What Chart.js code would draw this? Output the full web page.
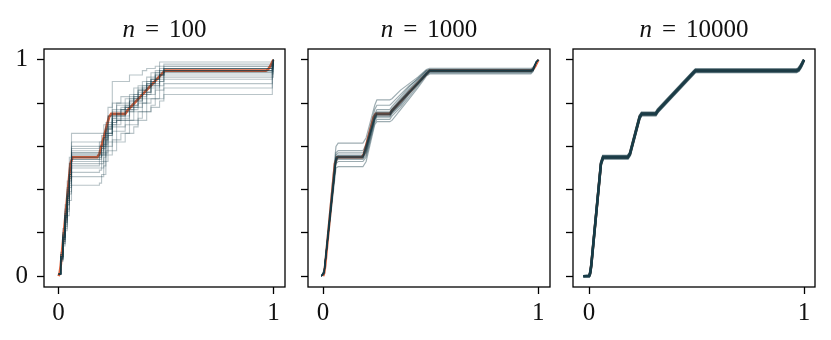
<!DOCTYPE html>
<html>
<head>
<meta charset="utf-8">
<script src="https://cdn.jsdelivr.net/npm/chart.js@4/dist/chart.umd.min.js"></script>
<style>
  html, body { margin: 0; padding: 0; background: #fff; }
  #wrap { position: relative; width: 831px; height: 340px; overflow: hidden; }
  canvas { position: absolute; top: 0; }
</style>
</head>
<body>
<div id="wrap">
  <canvas id="c1" width="289" height="340" style="left:0px"></canvas>
  <canvas id="c2" width="258" height="340" style="left:296px"></canvas>
  <canvas id="c3" width="258" height="340" style="left:561px"></canvas>
</div>
<script>
// sample sizes shown in the panel titles
const sampleSizes = ['100', '1000', '10000'];

const xTickValues = [0, 1];
const yTickValues = [0, 0.2, 0.4, 0.6, 0.8, 1];

// true cdf (red line)
const trueX = [0, 0.005, 0.01, 0.055, 0.065, 0.18, 0.19, 0.235, 0.245, 0.31, 0.32, 0.485, 0.495, 0.965, 0.975, 0.985, 0.995, 1.0];
const trueY = [0, 0.015, 0.05, 0.52, 0.55, 0.55, 0.565, 0.735, 0.75, 0.75, 0.765, 0.94, 0.95, 0.95, 0.955, 0.97, 0.99, 1.0];

// n = 100 : empirical cdfs, step functions on shared knots
const p1X = [0, 0.01, 0.02, 0.03, 0.04, 0.05, 0.06, 0.19, 0.20, 0.21, 0.22, 0.23, 0.25, 0.27, 0.29, 0.31, 0.33, 0.35, 0.37, 0.39, 0.41, 0.43, 0.45, 0.47, 0.49, 0.985, 0.995, 1.0];
const p1Curves = [
  [0.01, 0.11, 0.22, 0.33, 0.44, 0.55, 0.66, 0.66, 0.66, 0.70, 0.70, 0.78, 0.90, 0.90, 0.90, 0.90, 0.93, 0.93, 0.93, 0.95, 0.96, 0.96, 0.97, 0.99, 0.99, 0.99, 0.995, 1],
  [0.01, 0.10, 0.20, 0.31, 0.41, 0.52, 0.62, 0.62, 0.65, 0.65, 0.71, 0.74, 0.80, 0.80, 0.83, 0.83, 0.83, 0.87, 0.88, 0.88, 0.92, 0.94, 0.94, 0.97, 0.98, 0.98, 0.99, 1],
  [0.01, 0.10, 0.20, 0.30, 0.40, 0.50, 0.60, 0.60, 0.60, 0.64, 0.69, 0.69, 0.77, 0.79, 0.79, 0.79, 0.84, 0.84, 0.86, 0.90, 0.90, 0.92, 0.95, 0.95, 0.97, 0.97, 0.98, 1],
  [0.01, 0.10, 0.19, 0.29, 0.39, 0.49, 0.59, 0.62, 0.62, 0.66, 0.66, 0.74, 0.74, 0.80, 0.80, 0.82, 0.82, 0.82, 0.87, 0.87, 0.90, 0.90, 0.94, 0.96, 0.97, 0.97, 0.985, 1],
  [0.01, 0.09, 0.19, 0.29, 0.38, 0.48, 0.58, 0.58, 0.61, 0.61, 0.67, 0.70, 0.73, 0.73, 0.77, 0.77, 0.81, 0.83, 0.83, 0.88, 0.88, 0.91, 0.91, 0.95, 0.96, 0.96, 0.98, 1],
  [0.01, 0.09, 0.18, 0.28, 0.37, 0.47, 0.57, 0.60, 0.60, 0.64, 0.68, 0.68, 0.76, 0.76, 0.76, 0.80, 0.80, 0.84, 0.84, 0.86, 0.89, 0.89, 0.93, 0.93, 0.96, 0.96, 0.98, 1],
  [0.01, 0.09, 0.18, 0.27, 0.36, 0.46, 0.56, 0.56, 0.58, 0.62, 0.62, 0.68, 0.71, 0.74, 0.74, 0.74, 0.79, 0.79, 0.82, 0.85, 0.85, 0.89, 0.91, 0.91, 0.95, 0.95, 0.975, 1],
  [0.01, 0.09, 0.18, 0.27, 0.36, 0.45, 0.55, 0.57, 0.57, 0.63, 0.68, 0.68, 0.75, 0.75, 0.77, 0.77, 0.77, 0.82, 0.82, 0.86, 0.88, 0.88, 0.92, 0.94, 0.95, 0.95, 0.975, 1],
  [0.01, 0.09, 0.17, 0.26, 0.35, 0.44, 0.54, 0.54, 0.56, 0.56, 0.63, 0.66, 0.70, 0.72, 0.72, 0.76, 0.76, 0.79, 0.83, 0.83, 0.85, 0.88, 0.88, 0.92, 0.94, 0.94, 0.97, 1],
  [0.01, 0.08, 0.17, 0.26, 0.35, 0.44, 0.53, 0.55, 0.59, 0.59, 0.66, 0.66, 0.74, 0.74, 0.74, 0.76, 0.78, 0.78, 0.81, 0.85, 0.85, 0.89, 0.89, 0.93, 0.94, 0.94, 0.97, 1],
  [0.01, 0.08, 0.17, 0.25, 0.34, 0.43, 0.52, 0.52, 0.52, 0.57, 0.57, 0.65, 0.69, 0.72, 0.72, 0.72, 0.76, 0.78, 0.78, 0.82, 0.84, 0.84, 0.88, 0.90, 0.93, 0.93, 0.965, 1],
  [0.01, 0.08, 0.16, 0.25, 0.33, 0.42, 0.51, 0.53, 0.56, 0.56, 0.61, 0.66, 0.70, 0.70, 0.73, 0.73, 0.77, 0.77, 0.80, 0.80, 0.84, 0.87, 0.87, 0.90, 0.92, 0.92, 0.96, 1],
  [0.01, 0.08, 0.16, 0.24, 0.33, 0.41, 0.50, 0.50, 0.50, 0.55, 0.60, 0.60, 0.67, 0.69, 0.69, 0.72, 0.72, 0.76, 0.76, 0.80, 0.82, 0.82, 0.86, 0.88, 0.91, 0.91, 0.955, 1],
  [0.01, 0.08, 0.15, 0.23, 0.31, 0.39, 0.48, 0.49, 0.53, 0.53, 0.58, 0.62, 0.62, 0.67, 0.67, 0.70, 0.72, 0.72, 0.76, 0.76, 0.80, 0.82, 0.82, 0.86, 0.89, 0.89, 0.945, 1],
  [0.01, 0.07, 0.15, 0.22, 0.30, 0.38, 0.46, 0.46, 0.46, 0.51, 0.56, 0.56, 0.63, 0.63, 0.66, 0.66, 0.70, 0.70, 0.73, 0.76, 0.76, 0.79, 0.82, 0.82, 0.87, 0.87, 0.935, 1],
  [0.01, 0.07, 0.14, 0.21, 0.28, 0.35, 0.42, 0.43, 0.47, 0.47, 0.53, 0.58, 0.58, 0.62, 0.62, 0.66, 0.66, 0.69, 0.72, 0.72, 0.76, 0.78, 0.78, 0.81, 0.84, 0.84, 0.92, 1],
  [0.01, 0.09, 0.18, 0.28, 0.37, 0.46, 0.55, 0.55, 0.59, 0.64, 0.64, 0.70, 0.73, 0.77, 0.77, 0.79, 0.79, 0.83, 0.86, 0.86, 0.89, 0.91, 0.91, 0.93, 0.95, 0.95, 0.975, 1],
  [0.01, 0.09, 0.19, 0.28, 0.38, 0.47, 0.57, 0.57, 0.57, 0.61, 0.66, 0.71, 0.71, 0.75, 0.78, 0.78, 0.81, 0.81, 0.85, 0.87, 0.87, 0.90, 0.93, 0.93, 0.96, 0.96, 0.98, 1],
  [0.01, 0.09, 0.18, 0.27, 0.36, 0.45, 0.54, 0.56, 0.56, 0.60, 0.65, 0.65, 0.72, 0.72, 0.75, 0.78, 0.78, 0.81, 0.81, 0.84, 0.87, 0.90, 0.90, 0.93, 0.95, 0.95, 0.975, 1],
  [0.01, 0.09, 0.18, 0.28, 0.37, 0.47, 0.56, 0.56, 0.60, 0.60, 0.63, 0.69, 0.74, 0.74, 0.74, 0.78, 0.82, 0.82, 0.84, 0.84, 0.88, 0.91, 0.91, 0.94, 0.96, 0.96, 0.98, 1]
];

// n = 1000
const p2X = [-0.008, 0.005, 0.06, 0.07, 0.185, 0.20, 0.24, 0.25, 0.31, 0.32, 0.36, 0.40, 0.44, 0.48, 0.495, 0.965, 0.975, 0.99, 1.0];
const p2Curves = [
  [0, 0.03, 0.60, 0.615, 0.615, 0.64, 0.79, 0.815, 0.815, 0.82, 0.86, 0.89, 0.92, 0.955, 0.96, 0.96, 0.965, 0.99, 1],
  [0, 0.02, 0.57, 0.58, 0.58, 0.61, 0.77, 0.79, 0.79, 0.80, 0.84, 0.88, 0.91, 0.95, 0.955, 0.955, 0.96, 0.99, 1],
  [0, 0.02, 0.56, 0.57, 0.57, 0.59, 0.75, 0.77, 0.77, 0.785, 0.83, 0.875, 0.915, 0.95, 0.955, 0.955, 0.96, 0.99, 1],
  [0, 0.02, 0.55, 0.56, 0.56, 0.585, 0.745, 0.76, 0.76, 0.775, 0.82, 0.865, 0.905, 0.945, 0.95, 0.95, 0.955, 0.99, 1],
  [0, 0.02, 0.545, 0.555, 0.555, 0.58, 0.74, 0.755, 0.755, 0.77, 0.81, 0.86, 0.90, 0.94, 0.95, 0.95, 0.955, 0.99, 1],
  [0, 0.016, 0.54, 0.552, 0.552, 0.60, 0.73, 0.75, 0.75, 0.765, 0.81, 0.85, 0.89, 0.935, 0.95, 0.95, 0.955, 0.99, 1],
  [0, 0.014, 0.535, 0.548, 0.548, 0.595, 0.725, 0.745, 0.745, 0.76, 0.805, 0.847, 0.888, 0.934, 0.948, 0.948, 0.954, 0.99, 1],
  [0, 0.018, 0.545, 0.556, 0.556, 0.605, 0.735, 0.755, 0.755, 0.77, 0.815, 0.855, 0.895, 0.938, 0.952, 0.952, 0.957, 0.99, 1],
  [0, 0.015, 0.538, 0.55, 0.55, 0.598, 0.728, 0.748, 0.748, 0.762, 0.808, 0.85, 0.89, 0.936, 0.95, 0.95, 0.955, 0.99, 1],
  [0, 0.02, 0.54, 0.55, 0.55, 0.575, 0.73, 0.745, 0.745, 0.76, 0.80, 0.85, 0.895, 0.94, 0.948, 0.948, 0.953, 0.99, 1],
  [0, 0.02, 0.535, 0.545, 0.545, 0.57, 0.725, 0.74, 0.74, 0.755, 0.795, 0.845, 0.89, 0.935, 0.945, 0.945, 0.95, 0.99, 1],
  [0, 0.02, 0.53, 0.54, 0.54, 0.56, 0.72, 0.735, 0.735, 0.75, 0.79, 0.84, 0.885, 0.93, 0.943, 0.943, 0.95, 0.99, 1],
  [0, 0.02, 0.52, 0.53, 0.53, 0.55, 0.71, 0.725, 0.725, 0.74, 0.78, 0.83, 0.88, 0.93, 0.94, 0.94, 0.948, 0.99, 1],
  [0, 0.01, 0.50, 0.506, 0.506, 0.53, 0.70, 0.714, 0.714, 0.72, 0.77, 0.82, 0.87, 0.925, 0.935, 0.935, 0.945, 0.99, 1]
];

// n = 10000
const p3X = [-0.027, 0, 0.005, 0.01, 0.055, 0.065, 0.18, 0.19, 0.235, 0.245, 0.31, 0.32, 0.485, 0.495, 0.965, 0.975, 0.985, 0.995, 1.0];
const p3Curves = [
  [0, 0.004, 0.021, 0.056, 0.526, 0.556, 0.556, 0.571, 0.741, 0.756, 0.756, 0.771, 0.946, 0.956, 0.956, 0.961, 0.976, 0.995, 1.0],
  [0, 0.002, 0.018, 0.053, 0.523, 0.553, 0.553, 0.568, 0.738, 0.753, 0.753, 0.768, 0.943, 0.953, 0.953, 0.958, 0.973, 0.992, 1.0],
  [0, 0, 0.015, 0.05, 0.52, 0.55, 0.55, 0.565, 0.735, 0.75, 0.75, 0.765, 0.94, 0.95, 0.95, 0.955, 0.97, 0.99, 1.0],
  [0, 0, 0.012, 0.047, 0.517, 0.547, 0.547, 0.562, 0.732, 0.747, 0.747, 0.762, 0.937, 0.947, 0.947, 0.952, 0.967, 0.988, 1.0],
  [0, 0, 0.009, 0.044, 0.514, 0.544, 0.544, 0.559, 0.729, 0.744, 0.744, 0.759, 0.934, 0.944, 0.944, 0.949, 0.964, 0.985, 1.0]
];

const TEAL = '23, 60, 72';
const RED = '#d9603b';
const FONT = "'Liberation Serif', 'Times New Roman', serif";
const FONT_SIZE = 25;
const TEXT = '#111';

const panels = [
  { id: 'c1', n: sampleSizes[0], xs: p1X, curves: p1Curves, alpha: 0.3, width: 1.1, stepped: 'before', xMin: -0.068, xMax: 1.054, yWidth: 44, yLabels: true },
  { id: 'c2', n: sampleSizes[1], xs: p2X, curves: p2Curves, alpha: 0.42, width: 1.2, stepped: false, xMin: -0.07, xMax: 1.054, yWidth: 12, yLabels: false },
  { id: 'c3', n: sampleSizes[2], xs: p3X, curves: p3Curves, alpha: 0.65, width: 2.4, stepped: false, xMin: -0.075, xMax: 1.051, yWidth: 12, yLabels: false }
];

// box around the axes + "n = ..." title
const framePlugin = {
  id: 'frame',
  afterDraw(chart) {
    const { ctx, chartArea: a } = chart;
    ctx.save();
    ctx.strokeStyle = '#000';
    ctx.lineWidth = 1.3;
    ctx.strokeRect(a.left, a.top, a.right - a.left, a.bottom - a.top);

    const n = chart.options.plugins.frame.n;
    const italic = `italic ${FONT_SIZE}px ${FONT}`;
    const upright = `${FONT_SIZE}px ${FONT}`;
    const gap = 10;
    ctx.font = italic;
    const wN = ctx.measureText('n').width;
    ctx.font = upright;
    const wEq = ctx.measureText('=').width;
    const wNum = ctx.measureText(n).width;
    const total = wN + gap + wEq + gap + wNum;
    let x = (a.left + a.right) / 2 - total / 2;
    const y = 36.5;
    ctx.fillStyle = TEXT;
    ctx.textBaseline = 'alphabetic';
    ctx.textAlign = 'left';
    ctx.font = italic;
    ctx.fillText('n', x, y);
    x += wN + gap;
    ctx.font = upright;
    ctx.fillText('=', x, y);
    x += wEq + gap;
    ctx.fillText(n, x, y);
    ctx.restore();
  }
};

function toPoints(xs, ys) {
  return xs.map((x, i) => ({ x: x, y: ys[i] }));
}

function makePanel(p) {
  const datasets = p.curves.map(row => ({
    data: toPoints(p.xs, row),
    showLine: true,
    stepped: p.stepped,
    borderColor: `rgba(${TEAL}, ${p.alpha})`,
    borderWidth: p.width,
    pointRadius: 0,
    tension: 0,
    fill: false
  }));
  // last dataset is drawn first, so the true cdf sits underneath
  datasets.push({
    data: toPoints(trueX, trueY),
    showLine: true,
    borderColor: RED,
    borderWidth: 2.6,
    pointRadius: 0,
    tension: 0,
    fill: false
  });

  const tickGrid = { drawOnChartArea: false, drawTicks: true, tickLength: 7, tickColor: '#000', tickWidth: 1.3 };

  new Chart(document.getElementById(p.id), {
    type: 'scatter',
    data: { datasets },
    options: {
      responsive: false,
      animation: false,
      devicePixelRatio: 1,
      layout: { padding: { top: 49, right: 4, left: 0, bottom: 0 } },
      plugins: {
        legend: { display: false },
        tooltip: { enabled: false },
        frame: { n: p.n }
      },
      scales: {
        x: {
          type: 'linear',
          min: p.xMin,
          max: p.xMax,
          afterBuildTicks: s => { s.ticks = xTickValues.map(v => ({ value: v })); },
          afterFit: s => { s.height = 53; },
          ticks: { autoSkip: false, maxRotation: 0, padding: 4, color: TEXT, font: { family: FONT, size: FONT_SIZE }, callback: v => String(v) },
          grid: tickGrid,
          border: { display: false }
        },
        y: {
          type: 'linear',
          min: -0.05,
          max: 1.05,
          afterBuildTicks: s => { s.ticks = yTickValues.map(v => ({ value: v })); },
          afterFit: s => { s.width = p.yWidth; },
          ticks: {
            autoSkip: false, padding: 9, color: TEXT, font: { family: FONT, size: FONT_SIZE },
            callback: v => (p.yLabels && (v === 0 || v === 1)) ? String(v) : ''
          },
          grid: tickGrid,
          border: { display: false }
        }
      }
    },
    plugins: [framePlugin]
  });
}

panels.forEach(makePanel);
</script>
</body>
</html>
